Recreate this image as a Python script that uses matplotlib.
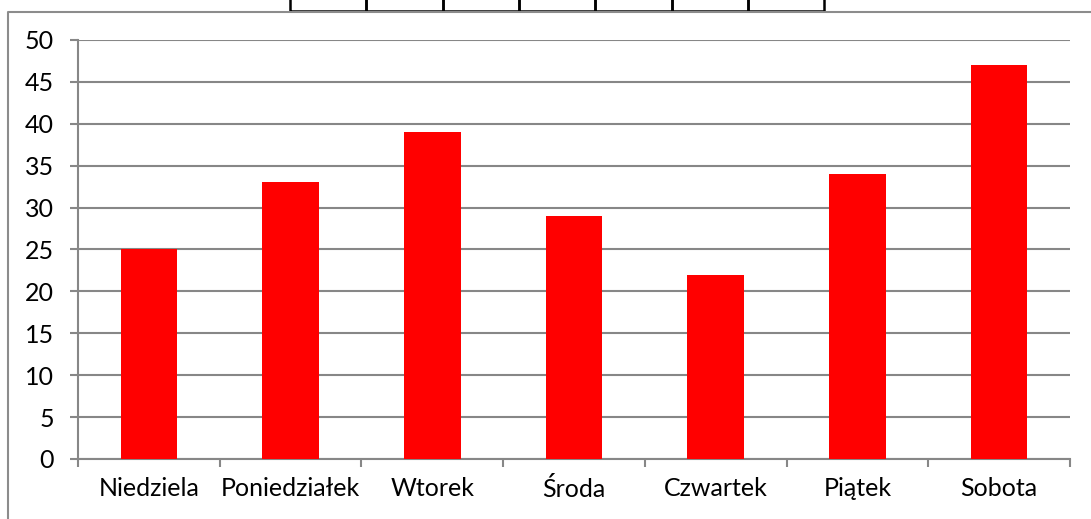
import matplotlib
matplotlib.use("Agg")
import matplotlib.pyplot as plt
from matplotlib.lines import Line2D
from matplotlib.patches import Rectangle

categories = ["Niedziela", "Poniedziałek", "Wtorek", "Środa", "Czwartek", "Piątek", "Sobota"]
values = [25, 33, 39, 29, 22, 34, 47]
yticks = [0, 5, 10, 15, 20, 25, 30, 35, 40, 45, 50]

plt.rcParams['font.family'] = ['Lato', 'DejaVu Sans']
W, H = 1091, 519
fig = plt.figure(figsize=(W/100, H/100), dpi=100)
fig.patch.set_facecolor('white')

ax = fig.add_axes([78/W, 1-459/H, (1070-78)/W, (459-40)/H])
grid_c = '#878787'
n = len(categories)
xs = list(range(n))
ax.bar(xs, values, width=0.4, color='#ff0000', zorder=3)
ax.set_xlim(-0.5, n-0.5)
ax.set_ylim(0, 50)
ax.set_yticks(yticks)
ax.set_yticklabels([str(v) for v in yticks], fontsize=18)
ax.yaxis.grid(True, color=grid_c, linewidth=1.5, zorder=0)
ax.set_axisbelow(True)
ax.set_xticks([i - 0.5 for i in range(n+1)])
ax.set_xticklabels([])
ax.set_xticks(xs, minor=True)
ax.set_xticklabels(categories, minor=True, fontsize=18)
ax.tick_params(axis='x', which='minor', length=0, pad=13)
ax.tick_params(axis='x', which='major', length=5.5, width=1.5, color=grid_c, direction='out')
ax.tick_params(axis='y', length=5.5, width=1.5, color=grid_c, pad=12)
for s in ['top', 'right']:
    ax.spines[s].set_visible(False)
for s in ['left', 'bottom']:
    ax.spines[s].set_color(grid_c)
    ax.spines[s].set_linewidth(1.5)

# outer chart frame
fig.add_artist(Line2D([8/W, 8/W, 1.0], [0, 1-12/H, 1-12/H], transform=fig.transFigure,
                      color='#8c8c8c', linewidth=1.5))
# partial table cells at top
x0, cw = 290, 76.3
for i in range(7):
    fig.add_artist(Rectangle(((x0 + i*cw)/W, 1-11/H), cw/W, 14/H, transform=fig.transFigure,
                             fill=False, edgecolor='black', linewidth=1.8))

fig.savefig("out.png", dpi=100)
